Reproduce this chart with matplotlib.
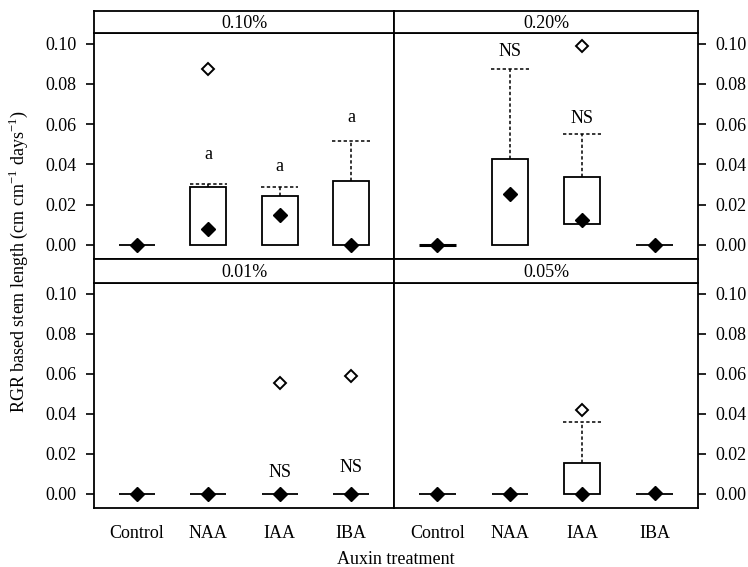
import numpy as np
import matplotlib
matplotlib.use("Agg")
import matplotlib.pyplot as plt

plt.rcParams['font.family'] = ['Liberation Serif', 'DejaVu Serif']
plt.rcParams['mathtext.fontset'] = 'custom'
plt.rcParams['mathtext.rm'] = 'Liberation Serif'

# DATA
treatments = ["Control", "NAA", "IAA", "IBA"]
panels = ["0.10%", "0.20%", "0.01%", "0.05%"]

# per panel: lower quartile, upper quartile, median, upper whisker, outlier
q1 = {"0.10%": [0.0, 0.0, 0.0, 0.0],
      "0.20%": [0.0, 0.0, 0.0103, 0.0],
      "0.01%": [0.0, 0.0, 0.0, 0.0],
      "0.05%": [0.0, 0.0, 0.0, 0.0]}
q3 = {"0.10%": [0.0, 0.029, 0.0245, 0.032],
      "0.20%": [0.0, 0.0428, 0.0335, 0.0],
      "0.01%": [0.0, 0.0, 0.0, 0.0],
      "0.05%": [0.0, 0.0, 0.0157, 0.0]}
med = {"0.10%": [0.0, 0.0081, 0.015, 0.0],
       "0.20%": [0.0, 0.0254, 0.0124, 0.0],
       "0.01%": [0.0, 0.0, 0.0, 0.0],
       "0.05%": [0.0, 0.0, 0.0, 0.0007]}
whisk = {"0.10%": [None, 0.0305, 0.029, 0.0516],
         "0.20%": [None, 0.0876, 0.055, None],
         "0.01%": [None, None, None, None],
         "0.05%": [None, None, 0.0358, None]}
outl = {"0.10%": [None, 0.0874, None, None],
        "0.20%": [None, None, 0.099, None],
        "0.01%": [None, None, 0.0553, 0.0589],
        "0.05%": [None, None, 0.042, None]}
# significance labels: (treatment index, y position, text)
sig = {"0.10%": [(1, 0.045, "a"), (2, 0.039, "a"), (3, 0.0635, "a")],
       "0.20%": [(1, 0.0962, "NS"), (2, 0.063, "NS")],
       "0.01%": [(2, 0.0107, "NS"), (3, 0.0132, "NS")],
       "0.05%": []}

W, H = 748, 567
fig = plt.figure(figsize=(W / 100, H / 100), dpi=100)

def fx(px):
    return px / W

def fy(py):
    return 1 - py / H

# panel layout in pixels: (left, right, top, bottom, strip top)
boxes = {"0.10%": (94, 394, 33, 259, 11),
         "0.20%": (394, 698, 33, 259, 11),
         "0.01%": (94, 394, 283, 508, 259),
         "0.05%": (394, 698, 283, 508, 259)}

x = np.arange(1, 5)
bw = 0.5

for p in panels:
    l, r, t, b, st = boxes[p]
    ax = fig.add_axes([fx(l), fy(b), fx(r - l), fy(t) - fy(b)])
    sax = fig.add_axes([fx(l), fy(t), fx(r - l), fy(st) - fy(t)])
    sax.set_xticks([])
    sax.set_yticks([])
    sax.text(0.5, 0.45, p, ha="center", va="center", fontsize=13,
             transform=sax.transAxes)
    for sp in sax.spines.values():
        sp.set_linewidth(1.3)

    lo = np.array(q1[p])
    hi = np.array(q3[p])
    # collapsed boxes (all zero) drawn a bit heavier, as in the original
    lw = [2.2 if (p == "0.20%" and i == 0) else 1.3 for i in range(4)]
    ax.bar(x, hi - lo, bottom=lo, width=bw, fill=False, edgecolor="black",
           linewidth=lw, zorder=2)
    for i in range(4):
        if whisk[p][i] is not None:
            ax.vlines(x[i], hi[i], whisk[p][i], colors="black",
                      linestyles=(0, (2.2, 1.6)), linewidth=1.1)
            ax.hlines(whisk[p][i], x[i] - bw / 2 * 1.05, x[i] + bw / 2 * 1.05,
                      colors="black", linestyles=(0, (2.2, 1.6)), linewidth=1.1)
        if outl[p][i] is not None:
            ax.plot(x[i], outl[p][i], marker="D", ms=6, mfc="white",
                    mec="black", mew=1.4, zorder=4)
    ax.plot(x, med[p], linestyle="none", marker="D", ms=7.2, mfc="black",
            mec="black", zorder=5)
    for i, yy, s in sig[p]:
        ax.text(x[i], yy, s, ha="center", va="center", fontsize=13)

    ax.set_xlim(0.4, 4.6)
    ax.set_ylim(-0.007, 0.1053)
    yt = [0.0, 0.02, 0.04, 0.06, 0.08, 0.10]
    ax.set_yticks(yt)
    ax.set_yticklabels(["%.2f" % v for v in yt])
    for sp in ax.spines.values():
        sp.set_linewidth(1.3)
    ax.tick_params(axis="y", direction="out", length=6, width=1.2,
                   labelsize=13, pad=6.5)
    if p in ("0.20%", "0.05%"):
        ax.yaxis.tick_right()
    if p in ("0.01%", "0.05%"):
        ax.set_xticks(x)
        ax.set_xticklabels(treatments)
        ax.tick_params(axis="x", length=0, labelsize=13, pad=12)
    else:
        ax.set_xticks([])

fig.text(fx(396), fy(560), "Auxin treatment", ha="center", va="center",
         fontsize=13)
fig.text(fx(18), fy(262),
         r"RGR based stem length (cm cm$^{-1}$ days$^{-1}$)",
         ha="center", va="center", rotation=90, fontsize=13)

fig.savefig("out.png", dpi=100)
